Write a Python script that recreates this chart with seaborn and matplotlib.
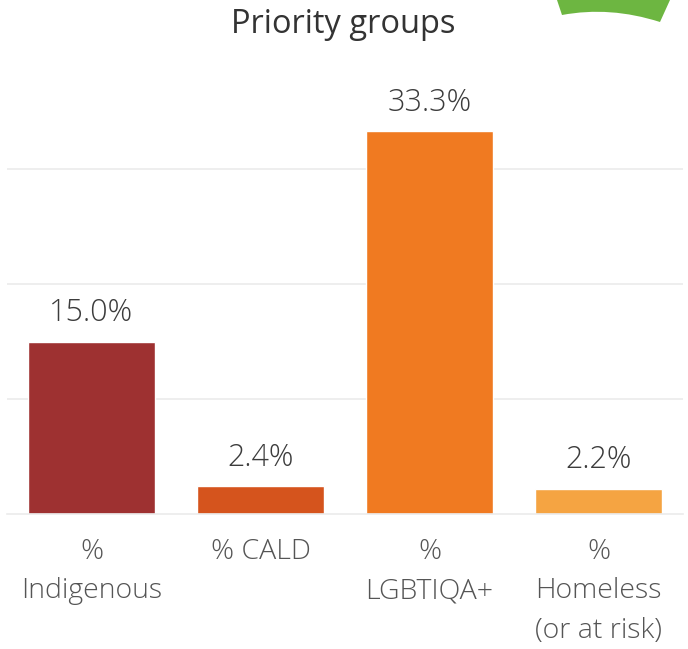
import matplotlib
matplotlib.use("Agg")
import matplotlib.pyplot as plt
from matplotlib.patches import PathPatch
from matplotlib.path import Path
import seaborn as sns
import pandas as pd

categories = ["%\nIndigenous", "% CALD", "%\nLGBTIQA+", "%\nHomeless\n(or at risk)"]
values = [15.0, 2.4, 33.3, 2.2]
value_labels = ["15.0%", "2.4%", "33.3%", "2.2%"]
colors = ["#9e3131", "#d5541d", "#f07a21", "#f5a442"]
title = "Priority groups"

sns.set_style("white")
plt.rcParams["font.family"] = ["Open Sans", "DejaVu Sans"]

df = pd.DataFrame({"group": categories, "pct": values})

fig = plt.figure(figsize=(6.88, 6.49), dpi=100)
ax = fig.add_axes([0.0102, 0.208, 0.9825, 0.6996])

sns.barplot(data=df, x="group", y="pct", hue="group", palette=colors,
            width=0.75, legend=False, ax=ax, saturation=1)

ax.set_ylim(0, 39.5)
ax.set_xlim(-0.5, 3.5)
ax.set_yticks([10, 20, 30])
ax.set_yticklabels([])
ax.yaxis.grid(True, color="#ebebeb", linewidth=1.2)
ax.set_axisbelow(True)
for side in ["top", "right", "left"]:
    ax.spines[side].set_visible(False)
ax.spines["bottom"].set_color("#ebebeb")
ax.spines["bottom"].set_linewidth(1.2)
ax.set_xlabel("")
ax.set_ylabel("")
ax.tick_params(axis="x", length=0, pad=17, labelsize=20.5, labelcolor="#555555")
ax.tick_params(axis="y", length=0)
for lbl in ax.get_xticklabels():
    lbl.set_linespacing(1.55)
    lbl.set_fontweight("light")

for i, (v, t) in enumerate(zip(values, value_labels)):
    ax.annotate(t, (i, v), xytext=(0, 9), textcoords="offset points",
                ha="center", va="bottom", fontsize=22, color="#3c3c3c",
                fontweight="light")

fig.text(0.499, 0.963, title, ha="center", va="center", fontsize=23.5,
         color="#333333", fontweight="medium")

# green badge edge peeking in at the top right
W, H = 688, 649
pts = [(557, 0), (562, 15), (610, 6), (660, 22), (670, 0), (557, 0)]
codes = [Path.MOVETO, Path.LINETO, Path.CURVE3, Path.CURVE3, Path.LINETO, Path.CLOSEPOLY]
verts = [(x / W, 1 - y / H) for x, y in pts]
fig.patches.append(PathPatch(Path(verts, codes), transform=fig.transFigure,
                             facecolor="#6db641", edgecolor="none"))

fig.savefig("out.png", dpi=100)
